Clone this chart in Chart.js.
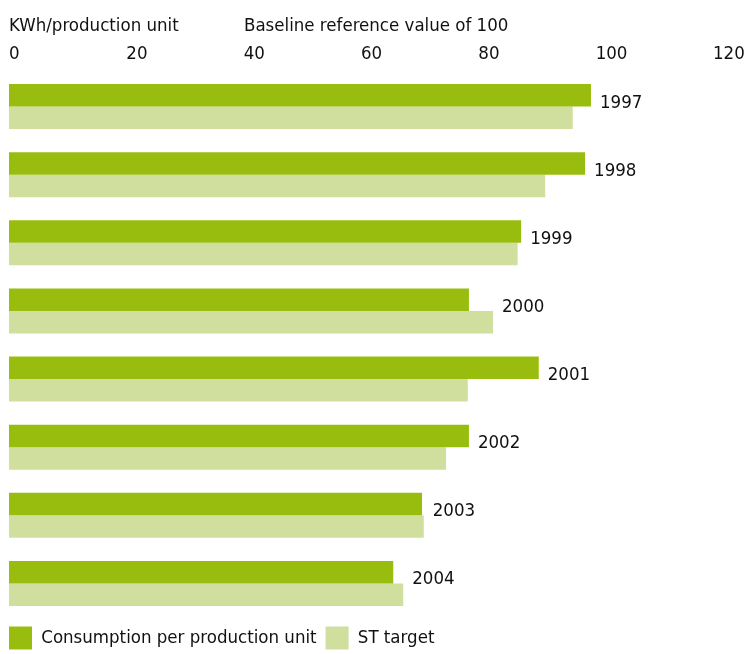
<!DOCTYPE html>
<html>
<head>
<meta charset="utf-8">
<script src="https://cdn.jsdelivr.net/npm/chart.js@4/dist/chart.umd.min.js"></script>
<style>
  html, body { margin: 0; padding: 0; background: #fff; }
  #wrap { width: 746px; height: 654px; }
</style>
</head>
<body>
<div id="wrap"><canvas id="energyChart"></canvas></div>
<script>
// Energy use per production unit, index 100 = baseline
const years = ['1997', '1998', '1999', '2000', '2001', '2002', '2003', '2004'];
const consumption = [99.2, 98.2, 87.3, 78.4, 90.3, 78.4, 70.4, 65.5];
const stTarget = [96.1, 91.4, 86.7, 82.5, 78.2, 74.5, 70.7, 67.2];
const xTicks = [0, 20, 40, 60, 80, 100, 120];
const unitLabel = 'KWh/production unit';
const baselineLabel = 'Baseline reference value of 100';

const FONT = "'DejaVu Sans Condensed', 'Liberation Sans Narrow', sans-serif";
const SIZE = 18.5;
const INK = '#111111';

// header line above the tick labels
const headerText = {
  id: 'headerText',
  afterDraw(chart) {
    const ctx = chart.ctx;
    ctx.save();
    ctx.font = SIZE + 'px ' + FONT;
    ctx.fillStyle = INK;
    ctx.textBaseline = 'alphabetic';
    ctx.textAlign = 'left';
    ctx.fillText(unitLabel, 9, 31);
    ctx.fillText(baselineLabel, 244, 31);
    ctx.restore();
  }
};

// year label to the right of the longer bar in each pair
const yearLabels = {
  id: 'yearLabels',
  afterDatasetsDraw(chart) {
    const ctx = chart.ctx;
    const a = chart.getDatasetMeta(0).data;
    const b = chart.getDatasetMeta(1).data;
    const yScale = chart.scales.y;
    ctx.save();
    ctx.font = SIZE + 'px ' + FONT;
    ctx.fillStyle = INK;
    ctx.textAlign = 'left';
    ctx.textBaseline = 'alphabetic';
    years.forEach((yr, i) => {
      const x = Math.max(a[i].x, b[i].x) + 9;
      const y = yScale.getPixelForValue(i) + 1;
      ctx.fillText(yr, x, y);
    });
    ctx.restore();
  }
};

const ctx = document.getElementById('energyChart').getContext('2d');
new Chart(ctx, {
  type: 'bar',
  data: {
    labels: years,
    datasets: [
      {
        label: 'Consumption per production unit',
        data: consumption,
        backgroundColor: '#99bd0e',
        borderWidth: 0
      },
      {
        label: 'ST target',
        data: stTarget,
        backgroundColor: '#d1df9e',
        borderWidth: 0
      }
    ]
  },
  options: {
    indexAxis: 'y',
    responsive: true,
    maintainAspectRatio: false,
    animation: false,
    datasets: {
      bar: { barPercentage: 1, categoryPercentage: 0.662 }
    },
    layout: {
      padding: { top: 41, left: 0, right: 33, bottom: -5.5 }
    },
    plugins: {
      legend: {
        position: 'bottom',
        align: 'start',
        labels: {
          boxWidth: 23,
          boxHeight: 23,
          padding: 9,
          color: INK,
          font: { family: FONT, size: SIZE }
        }
      },
      tooltip: { enabled: false }
    },
    scales: {
      x: {
        position: 'top',
        min: 0,
        max: 120,
        afterBuildTicks(scale) {
          scale.ticks = xTicks.map(v => ({ value: v }));
        },
        afterFit(scale) {
          scale.height = 31.5;
          // right margin comes from layout padding only
          scale.paddingLeft = 0;
          scale.paddingRight = 0;
        },
        grid: { display: false, drawTicks: false },
        border: { display: false },
        ticks: {
          align: 'start',
          padding: 7,
          color: INK,
          font: { family: FONT, size: SIZE }
        }
      },
      y: {
        afterFit(scale) {
          scale.width = 9;
        },
        grid: { display: false, drawTicks: false },
        border: { display: false },
        ticks: { display: false }
      }
    }
  },
  plugins: [headerText, yearLabels]
});
</script>
</body>
</html>
